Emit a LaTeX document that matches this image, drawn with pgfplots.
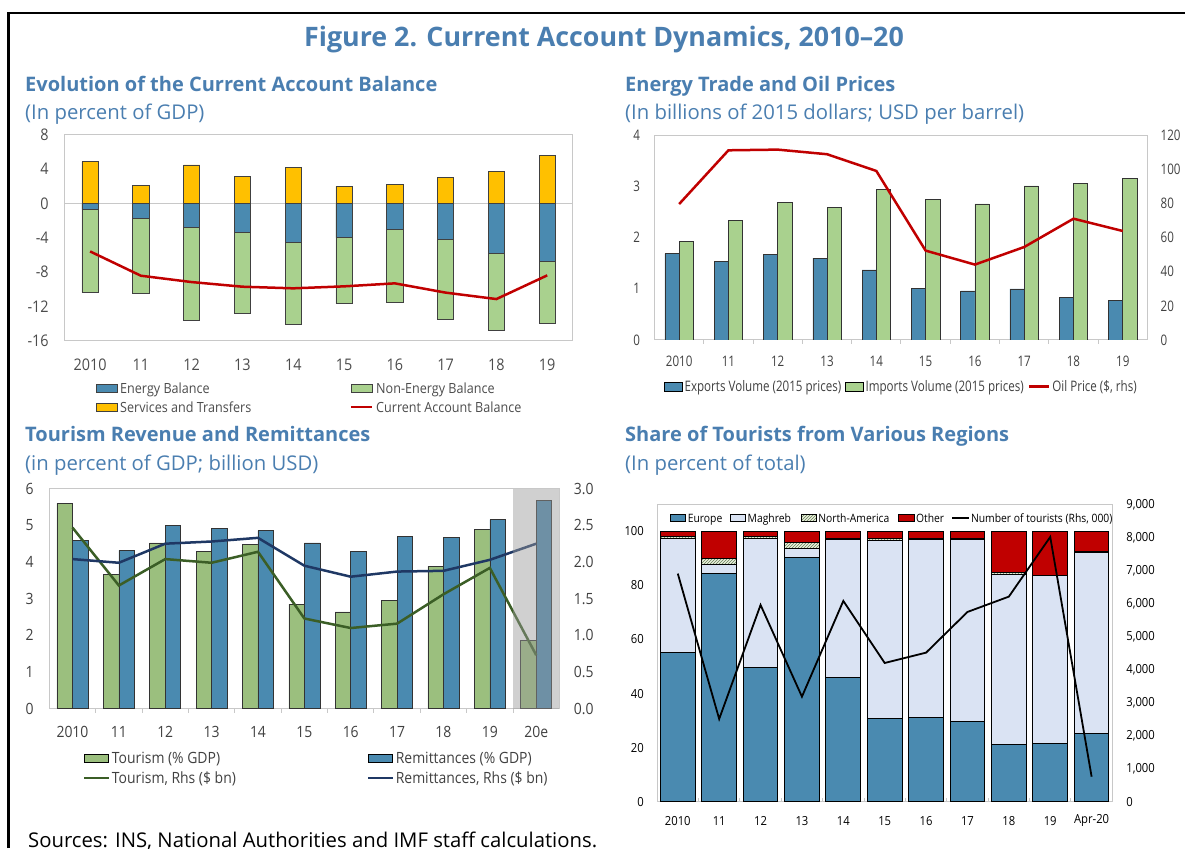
\documentclass[border=0pt]{standalone}
\usepackage{fontspec}
\setmainfont{Open Sans}
\newfontfamily\chf[FakeStretch=0.9]{Open Sans}
\newfontfamily\chg[FakeStretch=0.8]{Open Sans}
\newfontfamily\tf{Open Sans}
\usepackage{pgfplots}
\usepackage{pgfplotstable}
\pgfplotsset{compat=1.18}
\usetikzlibrary{patterns}

\definecolor{ttl}{HTML}{4A7EB0}
\definecolor{eblue}{HTML}{4A8AB0}
\definecolor{lgreen}{HTML}{A9D18E}
\definecolor{gold}{HTML}{FFC000}
\definecolor{dred}{HTML}{C00000}
\definecolor{tgreen}{HTML}{9BBF7E}
\definecolor{dgreen}{HTML}{3B5E26}
\definecolor{navy}{HTML}{1F3864}
\definecolor{maghreb}{HTML}{DAE3F3}
\definecolor{nagreen}{HTML}{EBF1DE}
\definecolor{axgray}{HTML}{C8C8C8}

\pgfplotsset{
  mybox/.style 2 args={legend image code/.code={\draw[##1] (0pt,-#2/2) rectangle (#1,#2/2);}},
  myline/.style={legend image code/.code={\draw[##1] (0pt,0pt) -- (#1,0pt);}},
}

\pgfplotstableread{
x en ne sv cab
0 -0.74 -9.66 4.85 -5.60
1 -1.75 -8.74 2.10 -8.43
2 -2.83 -10.77 4.47 -9.17
3 -3.42 -9.43 3.15 -9.71
4 -4.50 -9.56 4.16 -9.90
5 -4.00 -7.69 1.98 -9.67
6 -3.03 -8.47 2.17 -9.32
7 -4.19 -9.29 3.07 -10.40
8 -5.79 -9.04 3.73 -11.15
9 -6.80 -7.14 5.55 -8.39
}\tA

\pgfplotstableread{
x ex im oil
0 1.69 1.93 79.7
1 1.54 2.34 111.2
2 1.67 2.69 111.6
3 1.60 2.59 108.9
4 1.37 2.94 99.1
5 1.01 2.74 52.4
6 0.96 2.66 44.2
7 1.00 3.01 54.5
8 0.83 3.06 71.1
9 0.78 3.15 63.9
}\tB

\pgfplotstableread{
x tour rem tl rl
0 5.60 4.59 2.47 2.04
1 3.66 4.32 1.68 1.99
2 4.52 5.00 2.04 2.25
3 4.30 4.92 1.99 2.28
4 4.48 4.86 2.14 2.33
5 2.85 4.52 1.23 1.95
6 2.64 4.30 1.10 1.80
7 2.96 4.70 1.16 1.87
8 3.88 4.67 1.56 1.88
9 4.89 5.16 1.92 2.03
10 1.87 5.68 0.73 2.25
}\tC

\pgfplotstableread{
x eu ma na ot tour
0 55.2 42.2 0.6 2.0 6902
1 84.4 3.4 2.2 10.0 2503
2 49.8 47.6 0.7 1.9 5954
3 90.5 3.3 2.2 4.0 3179
4 45.9 51.1 0.4 2.6 6075
5 30.7 65.8 0.7 2.8 4198
6 31.1 65.8 0.6 2.5 4511
7 29.5 67.5 0.4 2.6 5742
8 21.2 63.0 0.4 15.4 6206
9 21.6 61.9 0.2 16.3 8012
10 25.2 67.0 0.3 7.5 757
}\tD

\begin{document}
\begin{tikzpicture}[x=1pt,y=1pt]
\useasboundingbox (0,0) rectangle (1185,848);
\draw[line width=2.5pt] (8.7,0) -- (8.7,835) -- (1185,835);

% titles
\node[anchor=base, inner sep=0pt, text=ttl, font={\tf\bfseries\fontsize{26.8}{31}\selectfont}] at (604,801.5) {Figure 2. Current Account Dynamics, 2010–20};
\node[anchor=base west, inner sep=0pt, text=ttl, font={\tf\bfseries\fontsize{20}{24}\selectfont}] at (25,756.5) {Evolution of the Current Account Balance};
\node[anchor=base west, inner sep=0pt, text=ttl, font={\tf\fontsize{20.3}{24}\selectfont}] at (25,728) {(In percent of GDP)};
\node[anchor=base west, inner sep=0pt, text=ttl, font={\tf\bfseries\fontsize{20}{24}\selectfont}] at (625,756.5) {Energy Trade and Oil Prices};
\node[anchor=base west, inner sep=0pt, text=ttl, font={\tf\fontsize{20.3}{24}\selectfont}] at (625,728) {(In billions of 2015 dollars; USD per barrel)};
\node[anchor=base west, inner sep=0pt, text=ttl, font={\tf\bfseries\fontsize{20}{24}\selectfont}] at (25,406.5) {Tourism Revenue and Remittances};
\node[anchor=base west, inner sep=0pt, text=ttl, font={\tf\fontsize{20.3}{24}\selectfont}] at (25,377.5) {(in percent of GDP; billion USD)};
\node[anchor=base west, inner sep=0pt, text=ttl, font={\tf\bfseries\fontsize{20}{24}\selectfont}] at (625,406.5) {Share of Tourists from Various Regions};
\node[anchor=base west, inner sep=0pt, text=ttl, font={\tf\fontsize{20.3}{24}\selectfont}] at (625,377.5) {(In percent of total)};
\node[anchor=base west, inner sep=0pt, text=black, font={\tf\fontsize{20.3}{24}\selectfont}] at (28,1) {Sources: INS, National Authorities and IMF staff calculations.};

% ---------------- Panel 1
\begin{axis}[
  at={(64.7pt,507.3pt)}, anchor=south west, scale only axis,
  width=507.9pt, height=206pt,
  xmin=-0.5, xmax=9.5, ymin=-16, ymax=8,
  axis line style={draw=axgray, line width=1pt},
  xtick={0,...,9}, xticklabels={2010,11,12,13,14,15,16,17,18,19},
  ytick={-16,-12,-8,-4,0,4,8}, yticklabels={-16,-12,-8,-4,0,4,8},
  major tick length=0pt,
  extra y ticks={0}, extra y tick labels={},
  extra y tick style={grid=major, major grid style={draw=axgray, line width=1pt}},
  tick label style={font={\chf\fontsize{16}{18}\selectfont}, text=black!70, inner sep=0pt},
  xticklabel style={anchor=center, yshift=-24.3pt},
  yticklabel style={anchor=east, xshift=-15.8pt},
  ybar, bar width=16.2pt,
  legend columns=2, legend cell align=left,
  legend style={draw=none, fill=none, inner sep=0pt, at={(0.0608,-0.2053)}, anchor=north west,
    font={\chf\fontsize{14}{16}\selectfont}, text=black!70,
    nodes={inner sep=0pt, text height=10pt, text depth=0pt},
    /tikz/every odd column/.style={column sep=3pt}, row sep=9pt},
]
\addlegendimage{mybox={21pt}{8.7pt}, fill=eblue, draw=black!75}
\addlegendentry{\makebox[229.5pt][l]{Energy Balance}}
\addlegendimage{mybox={21pt}{8.7pt}, fill=lgreen, draw=black!75}
\addlegendentry{Non-Energy Balance}
\addlegendimage{mybox={21pt}{8.7pt}, fill=gold, draw=black!75}
\addlegendentry{\makebox[229.5pt][l]{Services and Transfers}}
\addlegendimage{myline=21pt, dred, line width=2.5pt}
\addlegendentry{Current Account Balance}
\addplot[fill=lgreen, draw=black!75, line width=0.7pt, bar shift=0pt, forget plot] table[x=x, y expr=\thisrow{en}+\thisrow{ne}] \tA;
\addplot[fill=eblue, draw=black!75, line width=0.7pt, bar shift=0pt, forget plot] table[x=x, y=en] \tA;
\addplot[fill=gold, draw=black!75, line width=0.7pt, bar shift=0pt, forget plot] table[x=x, y=sv] \tA;
\addplot[sharp plot, mark=none, dred, line width=2.5pt, forget plot] table[x=x, y=cab] \tA;
\end{axis}

% ---------------- Panel 2
\begin{axis}[
  at={(654.5pt,508pt)}, anchor=south west, scale only axis,
  width=492.9pt, height=204.7pt,
  xmin=-0.5, xmax=9.5, ymin=0, ymax=4,
  axis line style={draw=axgray, line width=1pt},
  xtick={0,...,9}, xticklabels={2010,11,12,13,14,15,16,17,18,19},
  ytick={0,1,2,3,4}, yticklabels={0,1,2,3,4},
  major tick length=0pt, minor xtick={0.5,1.5,...,8.5}, minor tick length=4pt,
  minor tick style={draw=axgray, line width=1pt}, tick align=inside, xtick pos=left, ytick pos=left,
  tick label style={font={\chg\fontsize{14.5}{16}\selectfont}, text=black!75, inner sep=0pt},
  xticklabel style={anchor=center, yshift=-21pt},
  yticklabel style={anchor=east, xshift=-14.2pt},
  ybar, bar width=14.2pt,
  legend columns=3, legend cell align=left,
  legend style={draw=none, fill=none, inner sep=0pt, at={(0.018,-0.228)}, anchor=west,
    font={\chg\fontsize{14.5}{16}\selectfont}, text=black!75,
    nodes={inner sep=0pt, text height=10.3pt, text depth=0pt},
    /tikz/every odd column/.style={column sep=2pt}},
]
\addlegendimage{mybox={18.6pt}{9pt}, fill=eblue, draw=black}
\addlegendentry{\makebox[160pt][l]{Exports Volume (2015 prices)}}
\addlegendimage{mybox={18.6pt}{9pt}, fill=lgreen, draw=black}
\addlegendentry{\makebox[162pt][l]{Imports Volume (2015 prices)}}
\addlegendimage{myline=20.3pt, dred, line width=2.5pt}
\addlegendentry{Oil Price (\$, rhs)}
\addplot[fill=eblue, draw=black!80, line width=0.6pt, bar shift=-7.1pt, forget plot] table[x=x, y=ex] \tB;
\addplot[fill=lgreen, draw=black!80, line width=0.6pt, bar shift=7.1pt, forget plot] table[x=x, y=im] \tB;
\end{axis}
\begin{axis}[
  at={(654.5pt,508pt)}, anchor=south west, scale only axis,
  width=492.9pt, height=204.7pt,
  xmin=-0.5, xmax=9.5, ymin=0, ymax=120,
  axis y line*=right, axis x line=none,
  axis line style={draw=axgray, line width=1pt},
  ytick={0,20,40,60,80,100,120}, yticklabels={0,20,40,60,80,100,120},
  major tick length=0pt,
  tick label style={font={\chg\fontsize{14.5}{16}\selectfont}, text=black!75, inner sep=0pt},
  yticklabel style={anchor=west, xshift=13pt},
]
\addplot[mark=none, dred, line width=2.5pt] table[x=x, y=oil] \tB;
\end{axis}

% ---------------- Panel 3
\begin{axis}[
  at={(49.3pt,139.3pt)}, anchor=south west, scale only axis,
  width=510.1pt, height=220pt,
  xmin=-0.5, xmax=10.5, ymin=0, ymax=6,
  axis line style={draw=axgray, line width=1pt},
  xtick={0,...,10}, xticklabels={2010,11,12,13,14,15,16,17,18,19,20e},
  ytick={0,1,2,3,4,5,6}, yticklabels={0,1,2,3,4,5,6},
  major tick length=0pt, minor xtick={0.5,1.5,...,9.5}, minor tick length=4pt,
  minor tick style={draw=axgray, line width=1pt}, tick align=inside, xtick pos=left, ytick pos=left,
  tick label style={font={\chf\fontsize{15.5}{17}\selectfont}, text=black!75, inner sep=0pt},
  xticklabel style={anchor=center, yshift=-23.3pt},
  yticklabel style={anchor=east, xshift=-15.4pt},
  ybar, bar width=15.5pt,
  legend columns=2, legend cell align=left,
  legend style={draw=none, fill=none, inner sep=0pt, at={(0.0657,-0.199)}, anchor=north west,
    font={\chf\fontsize{15.5}{17}\selectfont}, text=black!75,
    nodes={inner sep=0pt, text height=11pt, text depth=0pt},
    /tikz/every odd column/.style={column sep=2pt}, row sep=9pt},
]
\addlegendimage{mybox={24.4pt}{8.7pt}, fill=tgreen, draw=black}
\addlegendentry{\makebox[255pt][l]{Tourism (\% GDP)}}
\addlegendimage{mybox={24.4pt}{8.7pt}, fill=eblue, draw=black}
\addlegendentry{Remittances (\% GDP)}
\addlegendimage{myline=24.4pt, dgreen, line width=2.5pt}
\addlegendentry{\makebox[255pt][l]{Tourism, Rhs (\$ bn)}}
\addlegendimage{myline=24.4pt, navy, line width=2.5pt}
\addlegendentry{Remittances, Rhs (\$ bn)}
\addplot[fill=tgreen, draw=black!80, line width=0.6pt, bar shift=-7.75pt, forget plot] table[x=x, y=tour] \tC;
\addplot[fill=eblue, draw=black!80, line width=0.6pt, bar shift=7.75pt, forget plot] table[x=x, y=rem] \tC;
\end{axis}
\begin{axis}[
  at={(49.3pt,139.3pt)}, anchor=south west, scale only axis,
  width=510.1pt, height=220pt,
  xmin=-0.5, xmax=10.5, ymin=0, ymax=3,
  axis y line*=right, axis x line=none,
  axis line style={draw=axgray, line width=1pt},
  ytick={0,0.5,1,1.5,2,2.5,3}, yticklabels={0.0,0.5,1.0,1.5,2.0,2.5,3.0},
  major tick length=0pt,
  tick label style={font={\chf\fontsize{15.5}{17}\selectfont}, text=black!75, inner sep=0pt},
  yticklabel style={anchor=west, xshift=14.3pt},
]
\addplot[mark=none, dgreen, line width=2.5pt] table[x=x, y=tl] \tC;
\addplot[mark=none, navy, line width=2.5pt] table[x=x, y=rl] \tC;
\addplot[fill=black!40, fill opacity=0.46, draw=none] coordinates {(9.5,3) (10.5,3)} \closedcycle;
\end{axis}

% ---------------- Panel 4
\begin{axis}[
  at={(657.1pt,46.3pt)}, anchor=south west, scale only axis,
  width=455.2pt, height=297.4pt,
  xmin=-0.5, xmax=10.5, ymin=0, ymax=110,
  axis line style={draw=axgray, line width=1pt},
  xtick={0,...,10}, xticklabels={2010,11,12,13,14,15,16,17,18,19,Apr-20},
  ytick={0,20,40,60,80,100}, yticklabels={0,20,40,60,80,100},
  major tick length=0pt, minor xtick={0.5,1.5,...,9.5}, minor tick length=4pt,
  minor tick style={draw=axgray, line width=1pt}, tick align=inside, xtick pos=left, ytick pos=left,
  tick label style={font={\chf\fontsize{12.5}{14}\selectfont}, text=black, inner sep=0pt},
  xticklabel style={anchor=center, yshift=-19pt},
  yticklabel style={anchor=east, xshift=-13.1pt},
  ybar stacked, bar width=34.7pt,
  legend columns=5, legend cell align=left,
  legend style={draw=none, fill=none, inner sep=0pt, at={(0.0279,0.953)}, anchor=west,
    font={\chf\fontsize{11.5}{13}\selectfont}, text=black,
    nodes={inner sep=0pt, text height=8.2pt, text depth=0pt},
    /tikz/every odd column/.style={column sep=1.6pt}},
]
\addplot[fill=eblue, draw=black, line width=1pt, mybox={15.2pt}{7.3pt}] table[x=x, y=eu] \tD;
\addlegendentry{\makebox[42.1pt][l]{Europe}}
\addplot[fill=maghreb, draw=black, line width=1pt, mybox={15.2pt}{7.3pt}] table[x=x, y=ma] \tD;
\addlegendentry{\makebox[52.8pt][l]{Maghreb}}
\addplot[fill=nagreen, postaction={pattern=north east lines, pattern color=lgreen!60!black}, draw=black, line width=1pt, mybox={15.2pt}{7.3pt}] table[x=x, y=na] \tD;
\addlegendentry{\makebox[80pt][l]{North-America}}
\addplot[fill=dred, draw=black, line width=1pt, mybox={15.2pt}{7.3pt}] table[x=x, y=ot] \tD;
\addlegendentry{\makebox[35.1pt][l]{Other}}
\addlegendimage{myline=16.4pt, black, line width=1.8pt}
\addlegendentry{Number of tourists (Rhs, 000)}
\end{axis}
\begin{axis}[
  at={(657.1pt,46.3pt)}, anchor=south west, scale only axis,
  width=455.2pt, height=297.4pt,
  xmin=-0.5, xmax=10.5, ymin=0, ymax=9000,
  axis y line*=right, axis x line=none,
  axis line style={draw=axgray, line width=1pt},
  ytick={0,1000,2000,3000,4000,5000,6000,7000,8000,9000},
  yticklabels={0,{1,000},{2,000},{3,000},{4,000},{5,000},{6,000},{7,000},{8,000},{9,000}},
  major tick length=0pt,
  tick label style={font={\chf\fontsize{12.5}{14}\selectfont}, text=black, inner sep=0pt},
  yticklabel style={anchor=west, xshift=13.8pt},
]
\addplot[mark=none, black, line width=1.8pt] table[x=x, y=tour] \tD;
\end{axis}
\end{tikzpicture}
\end{document}
